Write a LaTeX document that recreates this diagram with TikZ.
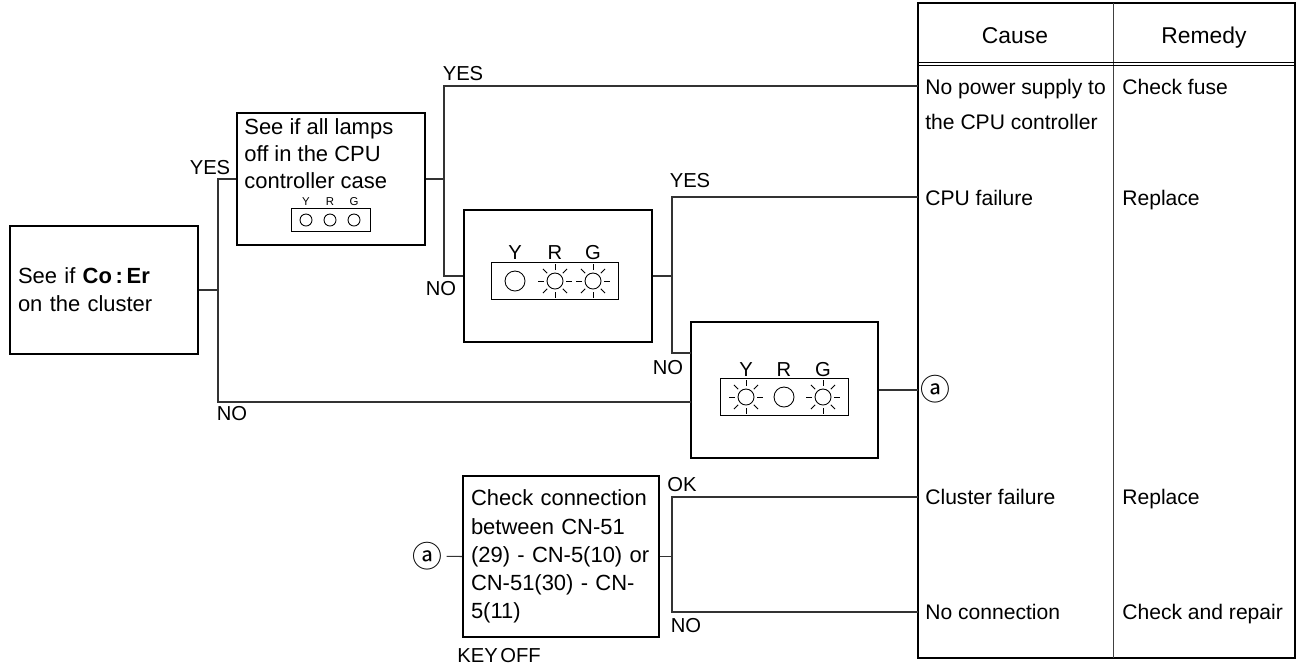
\documentclass[tikz,border=0pt]{standalone}
\usepackage{fontspec}
\setmainfont{Liberation Sans}
\newfontfamily\symfont{Noto Sans CJK JP}
\usepackage{tikz}
\usetikzlibrary{calc, positioning}

\newcommand{\sunlamp}[1]{%
	\draw[lamp] (#1) circle (8);
	\foreach \a in {0,45,...,315} \draw[lamp] (#1) ++(\a:11) -- ++(\a:6);}

\begin{document}
\begin{tikzpicture}[x=0.02cm, y=-0.02cm]
		\tikzstyle{checkbox} = [draw=black, line width=0.9pt, inner sep=0pt]
		\tikzstyle{boxtext} = [align=left, anchor=west, inner sep=0pt, font=\fontsize{12.5}{15.4}\selectfont]
		\tikzstyle{cell} = [anchor=west, inner sep=0pt, text height=8.6pt, text depth=0pt, font=\fontsize{12}{19.9}\selectfont]
		\tikzstyle{head} = [inner sep=0pt, text height=9.3pt, text depth=0pt, font=\fontsize{13}{15}\selectfont]
		\tikzstyle{answer} = [inner sep=0pt, text height=8.3pt, text depth=0pt, font=\fontsize{11.5}{13}\selectfont]
		\tikzstyle{tiny} = [inner sep=0pt, font=\fontsize{6.5}{7}\selectfont]
		\tikzstyle{circmark} = [inner sep=1pt, font=\symfont\fontsize{17}{19}\selectfont]
		\tikzstyle{wire} = [line width=0.6pt, black!80]
		\tikzstyle{panel} = [draw, line width=0.5pt]
		\tikzstyle{lamp} = [line width=0.5pt]
		
		\useasboundingbox (0,0) rectangle (1302,670);
		
		% check boxes
		\node[checkbox, minimum width=3.76cm, minimum height=2.56cm, text width=3.44cm, align=left,
			font=\fontsize{12.5}{16}\selectfont] at (104,290) (check1) {See if \textbf{Co\,:\,Er}\\on the cluster};
		\node[checkbox, minimum width=3.76cm, minimum height=2.64cm] at (331,179) (lamps2) {};
		\node[boxtext] at (244,154) (lamps2txt) {See if all lamps\\off in the CPU\\controller case};
		\node[checkbox, minimum width=3.76cm, minimum height=2.64cm] at (558,276) (lamps3) {};
		\node[checkbox, minimum width=3.74cm, minimum height=2.72cm] at (784.5,390) (lamps4) {};
		\node[checkbox, minimum width=3.92cm, minimum height=3.22cm, text width=3.6cm, align=left,
			font=\fontsize{12.5}{16}\selectfont] at (561,556.5) (check5)
			{Check connection\\between CN-51\\(29) - CN-5(10) or\\CN-51(30) - CN-\\5(11)};
		
		% lamp panels
		\draw[panel] (291,208) rectangle (370,231);
		\foreach \x/\t in {306/Y, 330/R, 354/G} {
			\node[tiny] at (\x,202) (p2\t) {\t};
			\draw[lamp] (\x,220) circle (6);
		}
		\draw[panel] (491,262) rectangle (618,299);
		\foreach \x/\t in {515/Y, 555/R, 593/G} \node[answer] at (\x,252) (p3\t) {\t};
		\draw[lamp] (515,281) circle (10);
		\sunlamp{555,281}
		\sunlamp{593,281}
		\draw[panel] (720,378) rectangle (848,415);
		\foreach \x/\t in {746/Y, 784/R, 823/G} \node[answer] at (\x,369) (p4\t) {\t};
		\sunlamp{746,397}
		\draw[lamp] (784,397) circle (10);
		\sunlamp{823,397}
		
		% cause / remedy table
		\draw[line width=1pt] (918,3) rectangle (1295,658);
		\draw[line width=0.5pt, black!75] (1113,3) -- (1113,658);
		\draw[line width=0.5pt] (918,62) -- (1295,62) (918,65.5) -- (1295,65.5);
		\node[head] at (1015,35) (cause) {Cause};
		\node[head] at (1204,35) (remedy) {Remedy};
		\node[anchor=west, inner sep=0pt, align=left, font=\fontsize{12}{19.9}\selectfont] at (925,104) (cause1)
			{No power supply to\\the CPU controller};
		\node[cell] at (1122,87) (remedy1) {Check fuse};
		\node[cell] at (925,198) (cause2) {CPU failure};
		\node[cell] at (1122,198) (remedy2) {Replace};
		\node[circmark] at (935,389) (marka) {ⓐ};
		\node[cell] at (925,497) (cause4) {Cluster failure};
		\node[cell] at (1122,497) (remedy4) {Replace};
		\node[cell] at (925,612) (cause5) {No connection};
		\node[cell] at (1122,612) (remedy5) {Check and repair};
		\node[circmark, inner sep=2.5pt] at (427,556) (marka5) {ⓐ};
		
		% branch points
		\coordinate (j1) at (218,290);
		\coordinate (j2) at (444,179);
		\coordinate (j3) at (672,276);
		\coordinate (j5) at (672,556);
		\coordinate (in4) at (691,402);
		\coordinate (in4b) at (691,353);
		\coordinate (row1) at (918,86);
		\coordinate (row2) at (918,197);
		\coordinate (row3) at (918,390);
		\coordinate (row4) at (918,497);
		\coordinate (row5) at (918,612);
		
		\draw[wire] (check1.east) -- (j1);
		\draw[wire] (lamps2.west) -| (j1) |- (in4);
		\draw[wire] (lamps2.east) -- (lamps2.east -| j2);
		\draw[wire] (row1) -| (j2) |- (lamps3.west);
		\draw[wire] (lamps3.east) -- (lamps3.east -| j3);
		\draw[wire] (row2) -| (j3) |- (in4b);
		\draw[wire] (lamps4.east) -- (row3);
		\draw[wire] (marka5) -- (check5.west);
		\draw[wire] (check5.east) -- (check5.east -| j5);
		\draw[wire] (row4) -| (j5) |- (row5);
		
		% answers
		\node[answer] at (210,167) (yes1) {YES};
		\node[answer] at (232,413) (no1) {NO};
		\node[answer] at (463,73) (yes2) {YES};
		\node[answer] at (441,288) (no2) {NO};
		\node[answer] at (690,180) (yes3) {YES};
		\node[answer] at (668,367) (no3) {NO};
		\node[answer] at (682,484) (ok5) {OK};
		\node[answer] at (686,625) (no5) {NO};
		\node[answer] at (499,655) (keyoff) {KEY\hspace{-0.15em} OFF};
\end{tikzpicture}
\end{document}
